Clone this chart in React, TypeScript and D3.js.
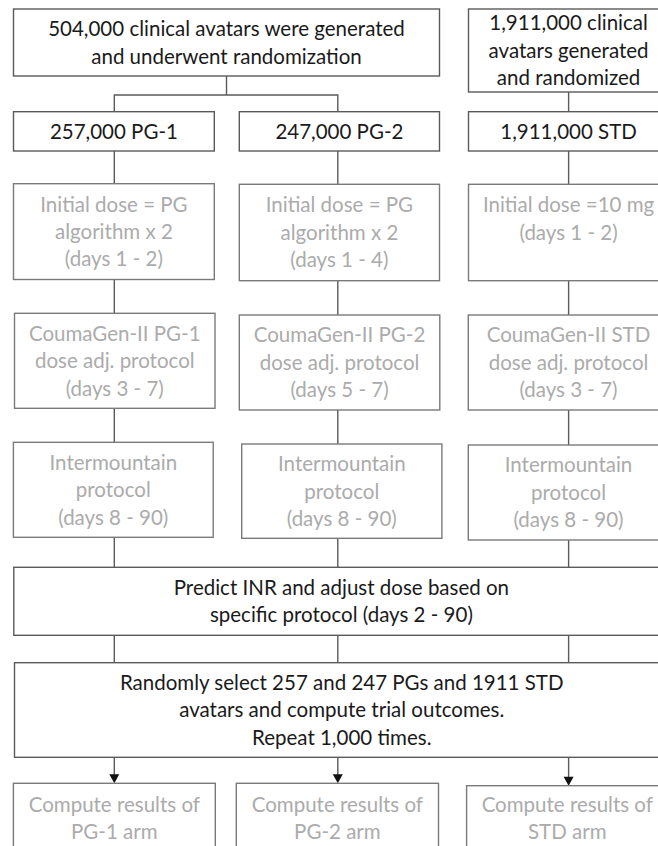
import React from "react";
import * as d3 from "d3";

// ---- content (text only) ----
const arms = ["PG-1", "PG-2", "STD"];
const sourceLinesPG = ["504,000 clinical avatars were generated", "and underwent randomization"];
const sourceLinesSTD = ["1,911,000 clinical", "avatars generated", "and randomized"];
const armLabels = ["257,000 PG-1", "247,000 PG-2", "1,911,000 STD"];
const initialDoseLines = [
  ["Initial dose = PG", "algorithm x 2", "(days 1 - 2)"],
  ["Initial dose = PG", "algorithm x 2", "(days 1 - 4)"],
  ["Initial dose =10 mg", "(days 1 - 2)", ""],
];
const adjustLines = [
  ["CoumaGen-II PG-1", "dose adj. protocol", "(days 3 - 7)"],
  ["CoumaGen-II PG-2", "dose adj. protocol", "(days 5 - 7)"],
  ["CoumaGen-II STD", "dose adj. protocol", "(days 3 - 7)"],
];
const maintenanceLines = [
  ["Intermountain", "protocol", "(days 8 - 90)"],
  ["Intermountain", "protocol", "(days 8 - 90)"],
  ["Intermountain", "protocol", "(days 8 - 90)"],
];
const predictLines = ["Predict INR and adjust dose based on", "specific protocol (days 2 - 90)"];
const selectLines = [
  "Randomly select 257 and 247 PGs and 1911 STD",
  "avatars and compute trial outcomes.",
  "Repeat 1,000 times.",
];
const resultLines = [
  ["Compute results of", "PG-1 arm"],
  ["Compute results of", "PG-2 arm"],
  ["Compute results of", "STD arm"],
];

// ---- layout ----
const W = 658;
const H = 846;
const FONT = "Lato, 'Open Sans', sans-serif";
const FS = 20.5;
const LH = 27.4;
const DARK = "#1a1a1a";
const GREY = "#ababab";
const STROKE_DARK = "#5a5a5a";
const STROKE_GREY = "#7a7a7a";

const colX = d3.scaleOrdinal<string, number>().domain(arms).range([114.3, 337.8, 568.6]);

type B = { x0: number; x1: number; y0: number; y1: number };
const armBoxes: B[] = [
  { x0: 13.5, x1: 214.3, y0: 111.7, y1: 151 },
  { x0: 239.3, x1: 439.5, y0: 111.7, y1: 151 },
  { x0: 468.5, x1: 668.7, y0: 111.7, y1: 151 },
];
const initBoxes: B[] = [
  { x0: 13.5, x1: 214.3, y0: 183.7, y1: 279.5 },
  { x0: 239.3, x1: 439.5, y0: 184.3, y1: 280.7 },
  { x0: 468.5, x1: 668.7, y0: 184.3, y1: 280.7 },
];
const adjBoxes: B[] = [
  { x0: 14.5, x1: 215, y0: 313.3, y1: 408.3 },
  { x0: 239.3, x1: 439.8, y0: 315, y1: 410 },
  { x0: 468.3, x1: 668.7, y0: 315, y1: 410 },
];
const mainBoxes: B[] = [
  { x0: 13.4, x1: 213.2, y0: 442.3, y1: 537.3 },
  { x0: 241.7, x1: 441.9, y0: 444, y1: 538.3 },
  { x0: 468.3, x1: 668.7, y0: 445, y1: 540 },
];
const resBoxes: B[] = [
  { x0: 13.4, x1: 215.3, y0: 783.3, y1: 853 },
  { x0: 236.3, x1: 438.5, y0: 783.3, y1: 853 },
  { x0: 466.6, x1: 668, y0: 785.7, y1: 855 },
];
const topPG: B = { x0: 13.5, x1: 439.5, y0: 9, y1: 76 };
const topSTD: B = { x0: 468.5, x1: 668.7, y0: 9, y1: 92 };
const predictBox: B = { x0: 13.8, x1: 669, y0: 567.3, y1: 635.3 };
const selectBox: B = { x0: 14.5, x1: 669, y0: 662.7, y1: 757.3 };

function Box({ b, lines, color, stroke, cy }: { b: B; lines: string[]; color: string; stroke: string; cy?: number }) {
  const cx = (b.x0 + b.x1) / 2;
  const c = cy ?? (b.y0 + b.y1) / 2;
  const n = lines.length;
  return (
    <g>
      <rect x={b.x0} y={b.y0} width={b.x1 - b.x0} height={b.y1 - b.y0} fill="white" stroke={stroke} strokeWidth={1.4} />
      {lines.map((t, i) => (
        <text
          key={i}
          x={cx}
          y={c + (i - (n - 1) / 2) * LH + FS * 0.36}
          textAnchor="middle"
          fontFamily={FONT}
          fontSize={FS}
          fill={color}
        >
          {t}
        </text>
      ))}
    </g>
  );
}

export default function App() {
  const line = d3.line();
  const vseg = (x: number, y0: number, y1: number) => line([[x, y0], [x, y1]]) as string;
  const connectors: string[] = [];
  // top PG box to arms
  const splitY = 95;
  connectors.push(vseg((topPG.x0 + topPG.x1) / 2, topPG.y1, splitY));
  connectors.push(line([[colX("PG-1"), armBoxes[0].y0], [colX("PG-1"), splitY], [colX("PG-2"), splitY], [colX("PG-2"), armBoxes[1].y0]]) as string);
  connectors.push(vseg(colX("STD"), topSTD.y1, armBoxes[2].y0));
  arms.forEach((a, i) => {
    const x = colX(a);
    connectors.push(vseg(x, armBoxes[i].y1, initBoxes[i].y0));
    connectors.push(vseg(x, initBoxes[i].y1, adjBoxes[i].y0));
    connectors.push(vseg(x, adjBoxes[i].y1, mainBoxes[i].y0));
    connectors.push(vseg(x, mainBoxes[i].y1, predictBox.y0));
    connectors.push(vseg(x, predictBox.y1, selectBox.y0));
    connectors.push(vseg(x, selectBox.y1, resBoxes[i].y0 - 7));
  });
  const arrowHeads = arms.map((a, i) => {
    const x = colX(a);
    const y = resBoxes[i].y0;
    return d3.line()([[x - 5, y - 9], [x + 5, y - 9], [x, y]]) + "Z";
  });

  return (
    <svg width={W} height={H} style={{ position: "absolute", left: 0, top: 0, background: "white" }}>
      <rect x={0} y={0} width={W} height={H} fill="white" />
      {connectors.map((d, i) => (
        <path key={i} d={d} fill="none" stroke={STROKE_DARK} strokeWidth={1.4} />
      ))}
      {arrowHeads.map((d, i) => (
        <path key={"a" + i} d={d} fill="#111" />
      ))}
      <Box b={topPG} lines={sourceLinesPG} color={DARK} stroke={STROKE_DARK} />
      <Box b={topSTD} lines={sourceLinesSTD} color={DARK} stroke={STROKE_DARK} />
      {armBoxes.map((b, i) => (
        <Box key={"arm" + i} b={b} lines={[armLabels[i]]} color={DARK} stroke={STROKE_DARK} />
      ))}
      {initBoxes.map((b, i) => (
        <Box key={"init" + i} b={b} lines={initialDoseLines[i]} color={GREY} stroke={STROKE_GREY} />
      ))}
      {adjBoxes.map((b, i) => (
        <Box key={"adj" + i} b={b} lines={adjustLines[i]} color={GREY} stroke={STROKE_GREY} />
      ))}
      {mainBoxes.map((b, i) => (
        <Box key={"main" + i} b={b} lines={maintenanceLines[i]} color={GREY} stroke={STROKE_GREY} />
      ))}
      <Box b={predictBox} lines={predictLines} color={DARK} stroke={STROKE_DARK} />
      <Box b={selectBox} lines={selectLines} color={DARK} stroke={STROKE_DARK} />
      {resBoxes.map((b, i) => (
        <Box key={"res" + i} b={b} lines={resultLines[i]} color={GREY} stroke={STROKE_GREY} cy={818} />
      ))}
    </svg>
  );
}
